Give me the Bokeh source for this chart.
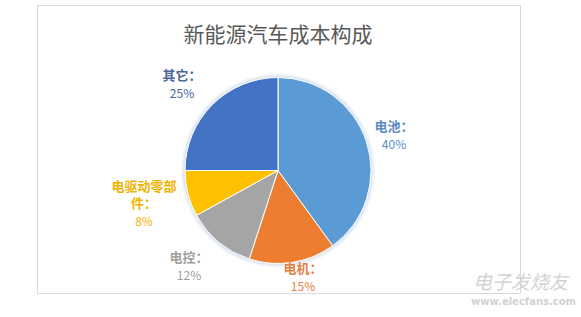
import math
import numpy as np
from bokeh.plotting import figure
from bokeh.models import Range1d, ColumnDataSource
from bokeh.core.properties import value
from bokeh.embed import file_html
from bokeh.resources import INLINE

# ---- data ----
title_text = "新能源汽车成本构成"
categories = ["电池", "电机", "电控", "电驱动零部件", "其它"]
shares = [40, 15, 12, 8, 25]
watermark_name = "电子发烧友"
watermark_url = "www.elecfans.com"

# ---- styles / positions ----
W, H = 581, 317
slice_colors = ["#5B9BD5", "#ED7D31", "#A5A5A5", "#FFC000", "#4472C4"]
label_colors = ["#5B8CC0", "#E2813F", "#A0A0A0", "#EFB400", "#4A679C"]
label_offsets = [(116, -36), (25, 106), (-89, 95), (-134, 32), (-96, -87)]
cx, cy, R = 277.5, 170.0, 93
FONT = "Noto Sans CJK SC"
LH = 17.5

def Y(y):
    return H - y

p = figure(width=W, height=H, x_range=Range1d(0, W), y_range=Range1d(0, H),
           output_backend="svg", toolbar_location=None, min_border=0,
           x_axis_type=None, y_axis_type=None, outline_line_color=None)
p.grid.visible = False
p.background_fill_color = "white"
p.border_fill_color = "white"

# chart frame
p.quad(left=[37], right=[520], top=[Y(5)], bottom=[Y(293)],
       fill_color=None, line_color="#d9d9d9", line_width=1)

# title
p.text(x=[cx], y=[Y(32)], text=[title_text], text_font=value(FONT),
       text_font_size="21px", text_color="#595959",
       text_align="center", text_baseline="middle")

# soft glow behind pie
for extra, a in [(4, 0.25), (2, 0.45)]:
    p.circle(x=[cx], y=[Y(cy)], radius=R + extra, radius_units="screen",
             fill_color="#c9d7e8", fill_alpha=a, line_color=None)

# pie
total = float(sum(shares))
cum = np.concatenate([[0.0], np.cumsum(shares)]) / total
start = math.pi / 2 - 2 * math.pi * cum[:-1]
end = math.pi / 2 - 2 * math.pi * cum[1:]
src = ColumnDataSource(dict(
    x=[cx] * len(shares), y=[Y(cy)] * len(shares),
    start=start, end=end, color=slice_colors, name=categories,
))
p.wedge(x="x", y="y", radius=R, radius_units="screen",
        start_angle="start", end_angle="end", direction="clock",
        fill_color="color", line_color="white", line_width=1, source=src)

# labels
def wrap(s, n):
    return [s[i:i + n] for i in range(0, len(s), n)]

nx, ny, nt, nc = [], [], [], []
px, py, pt, pc = [], [], [], []
for name, val, col, (dx, dy) in zip(categories, shares, label_colors, label_offsets):
    lines = wrap(name + "：", 5)
    n = len(lines) + 1
    lx, ly = cx + dx, cy + dy
    for i, ln in enumerate(lines):
        nx.append(lx)
        ny.append(Y(ly + (i - (n - 1) / 2) * LH))
        nt.append(ln)
        nc.append(col)
    px.append(lx)
    py.append(Y(ly + ((n - 1) - (n - 1) / 2) * LH))
    pt.append(f"{val}%")
    pc.append(col)

p.text(x=nx, y=ny, text=nt, text_color=nc, text_font=value(FONT),
       text_font_size="13px", text_font_style="bold",
       text_align="center", text_baseline="middle")
p.text(x=px, y=py, text=pt, text_color=pc, text_font=value(FONT),
       text_font_size="12px", text_align="center", text_baseline="middle")

# watermark
p.text(x=[520], y=[Y(280)], text=[watermark_name], text_font=value(FONT),
       text_font_size="19px", text_font_style="italic", text_color="#d2d2d2",
       text_align="center", text_baseline="middle")
p.text(x=[523], y=[Y(301)], text=[watermark_url], text_font=value("DejaVu Sans"),
       text_font_size="10px", text_font_style="bold", text_color="#d2d2d2",
       text_align="center", text_baseline="middle")

open("out.html", "w").write(file_html(p, INLINE))
